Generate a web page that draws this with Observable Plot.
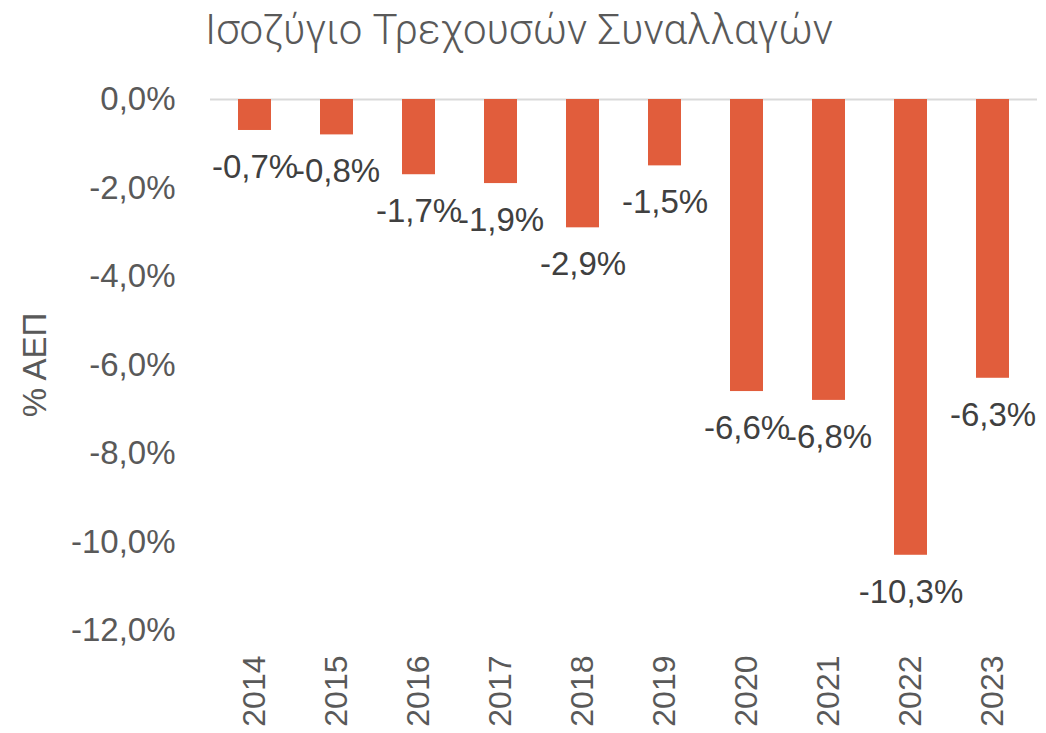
<!DOCTYPE html>
<html>
<head>
<meta charset="utf-8">
<script src="https://cdn.jsdelivr.net/npm/d3@7"></script>
<script src="https://cdn.jsdelivr.net/npm/@observablehq/plot@0.6"></script>
<style>
  html, body { margin: 0; padding: 0; background: #fff; }
  #wrap { width: 1046px; height: 733px; position: relative; overflow: hidden; }
  #title { position: absolute; left: 205px; top: 5px; font-family: Roboto, sans-serif; font-weight: 300; font-size: 42px; color: #595959; white-space: nowrap; }
  #chart { position: absolute; left: 0; top: 60px; }
</style>
</head>
<body>
<div id="wrap">
  <div id="title">Ισοζύγιο Τρεχουσών Συναλλαγών</div>
  <div id="chart"></div>
</div>
<script>
const years = ["2014","2015","2016","2017","2018","2019","2020","2021","2022","2023"];
const values = [-0.7, -0.8, -1.7, -1.9, -2.9, -1.5, -6.6, -6.8, -10.3, -6.3];
const yTicks = [0, -2, -4, -6, -8, -10, -12];
const yLabel = "% ΑΕΠ";

const data = years.map((year, i) => ({year, value: values[i]}));
const fmt = d => d.toFixed(1).replace(".", ",") + "%";

const chart = Plot.plot({
  width: 1046,
  height: 673,
  marginLeft: 210,
  marginRight: 9,
  marginTop: 39,
  marginBottom: 103,
  style: {fontFamily: "'Liberation Sans', Arial, sans-serif", background: "#fff"},
  x: {domain: years, paddingInner: 0.6, paddingOuter: 0.3, label: null, axis: null},
  y: {domain: [-12, 0], label: null, axis: null},
  marks: [
    Plot.ruleY([0], {stroke: "#d9d9d9", strokeWidth: 2}),
    Plot.barY(data, {x: "year", y: "value", fill: "#e15d3c"}),
    Plot.axisY(yTicks, {tickSize: 0, tickPadding: 35, tickFormat: fmt, fontSize: 33, fill: "#595959", label: null}),
    Plot.axisX(years, {tickSize: 0, tickPadding: 25, tickRotate: -90, fontSize: 32, fill: "#595959", label: null}),
    Plot.text(data, {x: "year", y: "value", text: d => fmt(d.value), dy: 37, fontSize: 33, fill: "#404040", lineAnchor: "middle"}),
    Plot.text([yLabel], {frameAnchor: "left", dx: -175, rotate: -90, fontSize: 33, fill: "#595959", lineAnchor: "middle", textAnchor: "middle"})
  ]
});
document.getElementById("chart").appendChild(chart);
</script>
</body>
</html>
